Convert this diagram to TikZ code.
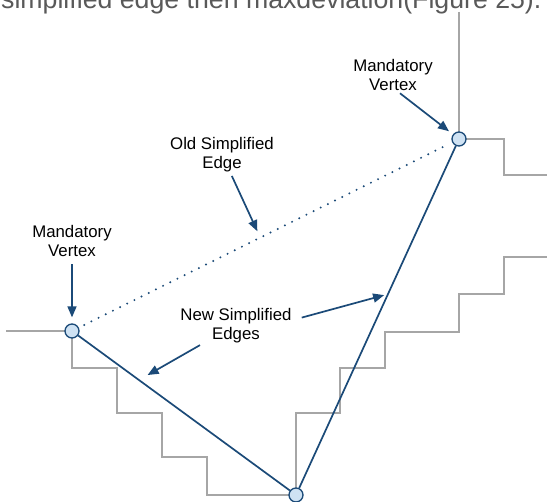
\documentclass[tikz,border=0pt]{standalone}
\usepackage{fontspec}
\setmainfont{Liberation Sans}
\usetikzlibrary{arrows.meta,positioning}
\definecolor{edgeblue}{HTML}{1B4A78}
\definecolor{vertexfill}{HTML}{CFE2F3}
\definecolor{stepgray}{HTML}{A6A6A6}
\definecolor{captiongray}{HTML}{595959}

\begin{document}
\begin{tikzpicture}[x=1pt,y=-1pt,
  vertex/.style={circle,draw=edgeblue,fill=vertexfill,line width=1.3pt,minimum size=14pt,inner sep=0pt},
  stairs/.style={stepgray,line width=1.7pt},
  simple/.style={edgeblue,line width=1.7pt},
  olddots/.style={edgeblue,line width=2.2pt,line cap=round,dash pattern=on 0pt off 8pt,shorten <=6pt,shorten >=6pt},
  callout/.style={edgeblue,line width=1.7pt,-{Triangle[length=11pt,width=9pt]}},
  lbl/.style={align=center,font=\fontsize{16.8}{19}\selectfont,inner sep=2pt}]
  \fill[white] (0,0) rectangle (547,502);
  \useasboundingbox (0,0) rectangle (547,502);
  \node[anchor=base west,inner sep=0pt,text=captiongray,font=\fontsize{26.7}{30}\selectfont] (caption) at (1,9) {simplified edge then maxdeviation(Figure 25).};
  \draw[stairs] (6,331) -- (72,331) -- (72,368) -- (117,368) -- (117,413) -- (162,413) -- (162,457) -- (207,457) -- (207,495) -- (296,495);
  \draw[stairs] (296,495) -- (296,413) -- (340,413) -- (340,368) -- (385,368) -- (385,332) -- (459,332) -- (459,294) -- (504,294) -- (504,257) -- (547,257);
  \draw[stairs] (459,12) -- (459,139) -- (504,139) -- (504,175) -- (547,175);
  \node[vertex] (vL) at (72,331) {};
  \node[vertex] (vT) at (459,139) {};
  \node[vertex] (vB) at (296,495) {};
  \draw[olddots] (vL) -- coordinate[pos=0.486] (oldPt) (vT);
  \draw[simple] (vL) -- coordinate[pos=0.287] (newPtL) (vB);
  \draw[simple] (vB) -- coordinate[pos=0.567] (newPtR) (vT);
  \node[lbl] (mvL) at (72,241.4) {Mandatory\\Vertex};
  \node[lbl] (mvT) at (393,75.4) {Mandatory\\Vertex};
  \node[lbl] (osl) at (222,154.6) {Old Simplified\\Edge};
  \node[lbl] (nsl) at (236,325.6) {New Simplified\\Edges};
  \draw[callout,shorten <=5pt,shorten >=6pt] (mvL) -- (vL);
  \draw[callout,shorten >=5pt] ([xshift=7pt]mvT.south) -- (vT);
  \draw[callout,shorten <=2pt,shorten >=7pt] (osl) -- (oldPt);
  \draw[callout,shorten >=10pt] ([xshift=-36pt]nsl.south) -- (newPtL);
  \draw[callout,shorten >=4pt] ([shift={(8pt,8pt)}]nsl.east) -- (newPtR);
\end{tikzpicture}
\end{document}
